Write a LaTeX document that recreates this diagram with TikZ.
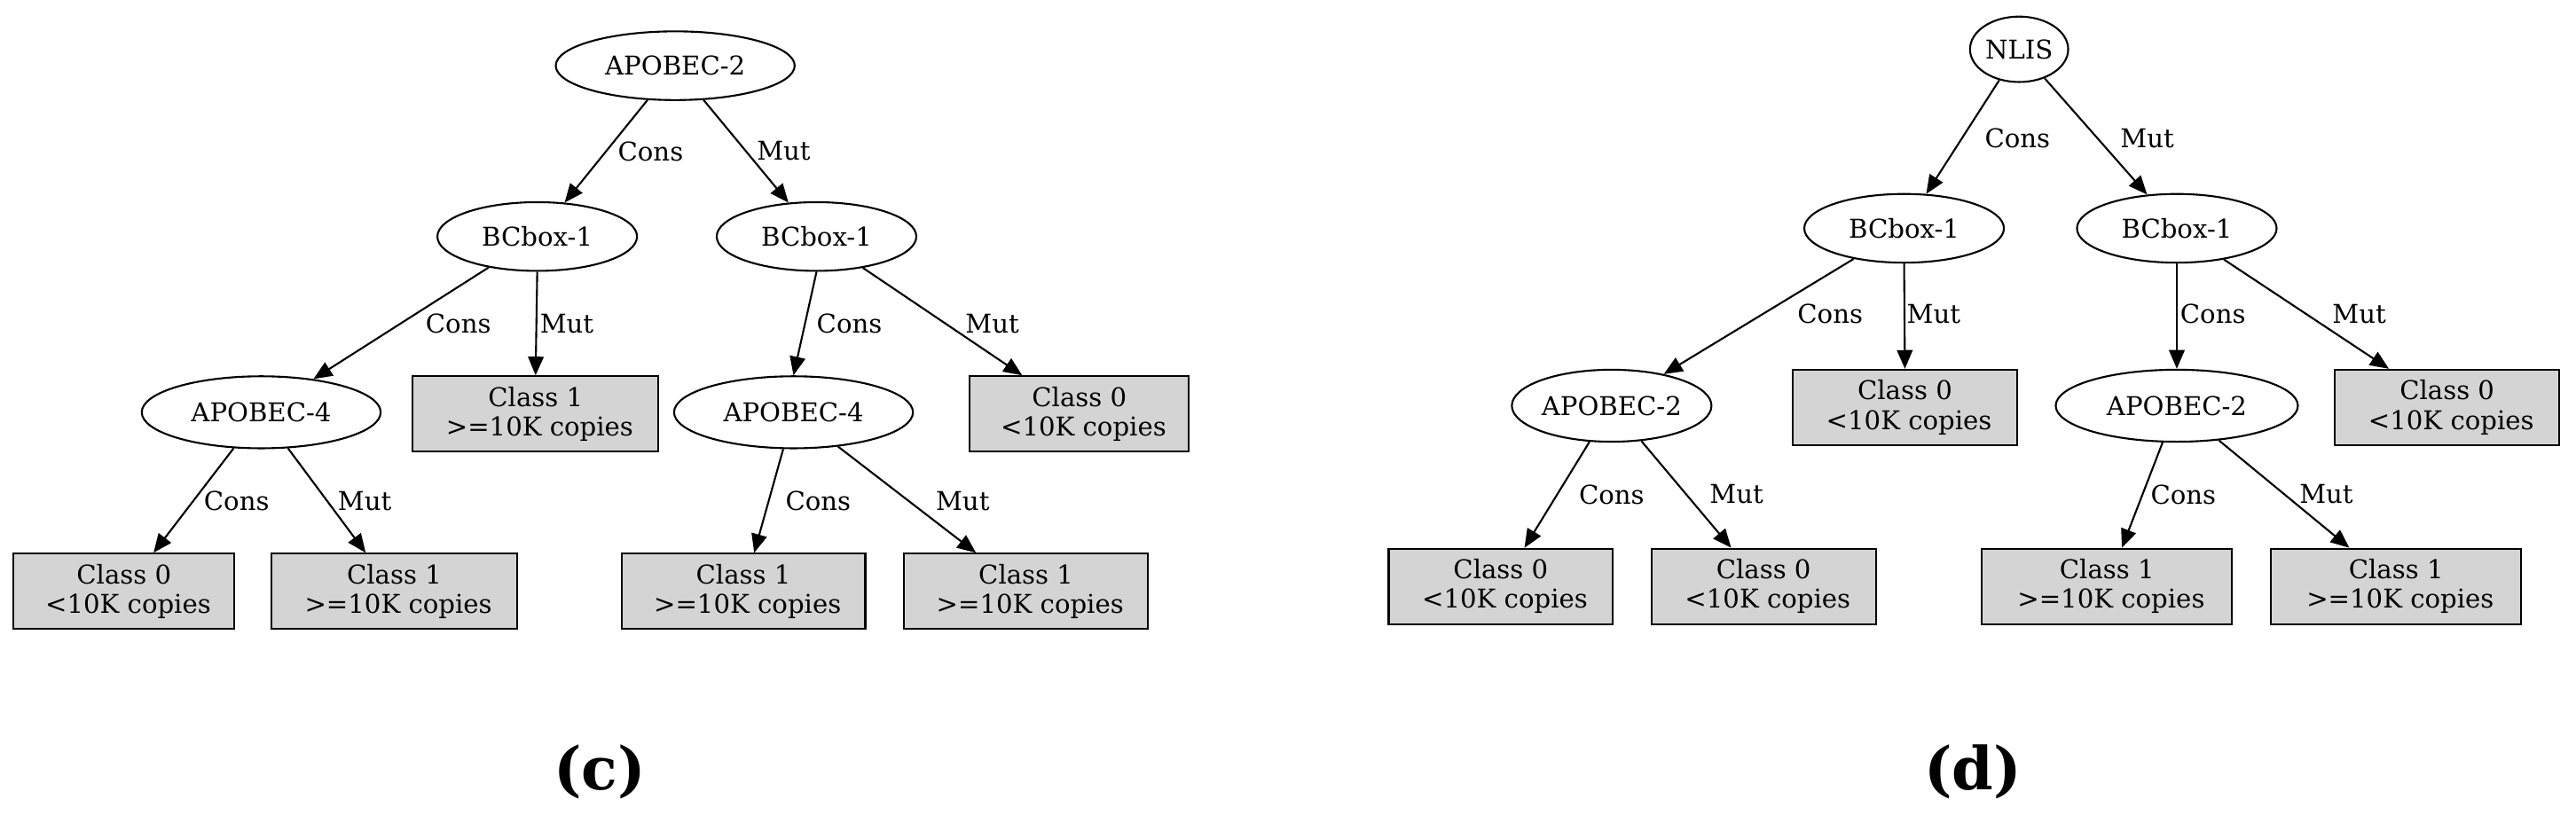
\documentclass[tikz,border=0pt]{standalone}
\usepackage{fontspec}
\setmainfont{DejaVu Serif}
\usetikzlibrary{arrows.meta,shapes.geometric}
\begin{document}
\begin{tikzpicture}[x=0.01852cm,y=-0.01852cm,
  every node/.style={font=\fontsize{8.3}{9.5}\selectfont},
  w/.style={minimum width=#1*0.525pt},
  h/.style={minimum height=#1*0.525pt},
  el/.style={draw,ellipse,line width=0.6pt,inner sep=0pt,h=42},
  bx/.style={draw,fill=black!17,line width=0.6pt,inner sep=0pt,h=46,align=center},
  ar/.style={line width=0.6pt,-{Triangle[length=6pt,width=5pt]}},
  lb/.style={inner sep=0pt}]
\useasboundingbox (0,0) rectangle (1568,501);
% (c)
\node[el,w=146] (a2) at (411,40) {APOBEC-2};
\node[el,w=122] (b1) at (327,144) {BCbox-1};
\node[el,w=122] (b2) at (497,144) {BCbox-1};
\node[el,w=146,h=44] (a4l) at (159,251) {APOBEC-4};
\node[el,w=146,h=44] (a4r) at (483,251) {APOBEC-4};
\node[bx,w=150] (c1a) at (326,252) {Class 1\\ \ >=10K copies};
\node[bx,w=134] (c0a) at (657,252) {Class 0\\ \ <10K copies};
\node[bx,w=135] (c0b) at (75.5,360) {Class 0\\ \ <10K copies};
\node[bx,w=150] (c1b) at (240,360) {Class 1\\ \ >=10K copies};
\node[bx,w=149] (c1c) at (452.5,360) {Class 1\\ \ >=10K copies};
\node[bx,w=149] (c1d) at (624.5,360) {Class 1\\ \ >=10K copies};
\draw[ar] (a2) -- (b1); \draw[ar] (a2) -- (b2);
\draw[ar] (b1) -- (a4l); \draw[ar] (b1.south) -- (c1a.north);
\draw[ar] (b2.south) -- (a4r.north); \draw[ar] (b2) -- (c0a);
\draw[ar] (a4l) -- (c0b); \draw[ar] (a4l) -- (c1b);
\draw[ar] (a4r) -- (c1c); \draw[ar] (a4r) -- (c1d);
\node[lb] (l1) at (396,92) {Cons}; \node[lb] (l2) at (477,92) {Mut};
\node[lb] (l3) at (279,197) {Cons}; \node[lb] (l4) at (345,197) {Mut};
\node[lb] (l5) at (517,197) {Cons}; \node[lb] (l6) at (604,197) {Mut};
\node[lb] (l7) at (144,305) {Cons}; \node[lb] (l8) at (222,305) {Mut};
\node[lb] (l9) at (498,305) {Cons}; \node[lb] (l10) at (586,305) {Mut};
\node[font=\fontsize{19}{22}\selectfont\bfseries] (capc) at (365,470) {(c)};
% (d)
\node[el,w=60,h=40] (n) at (1229,30) {NLIS};
\node[el,w=122] (d1) at (1159,139) {BCbox-1};
\node[el,w=122] (d2) at (1325,139) {BCbox-1};
\node[el,w=122,h=44] (e1) at (981,247) {APOBEC-2};
\node[el,w=148,h=44] (e2) at (1325,247) {APOBEC-2};
\node[bx,w=137] (f1) at (1159.5,248) {Class 0\\ \ <10K copies};
\node[bx,w=137] (f2) at (1489.5,248) {Class 0\\ \ <10K copies};
\node[bx,w=137] (g1) at (913.5,357) {Class 0\\ \ <10K copies};
\node[bx,w=137] (g2) at (1073.5,357) {Class 0\\ \ <10K copies};
\node[bx,w=153] (g3) at (1282.5,357) {Class 1\\ \ >=10K copies};
\node[bx,w=153] (g4) at (1458.5,357) {Class 1\\ \ >=10K copies};
\draw[ar] (n) -- (d1); \draw[ar] (n) -- (d2);
\draw[ar] (d1) -- (e1); \draw[ar] (d1.south) -- (f1.north);
\draw[ar] (d2.south) -- (e2.north); \draw[ar] (d2) -- (f2);
\draw[ar] (e1) -- (g1); \draw[ar] (e1) -- (g2);
\draw[ar] (e2) -- (g3); \draw[ar] (e2) -- (g4);
\node[lb] (m1) at (1228,84) {Cons}; \node[lb] (m2) at (1307,84) {Mut};
\node[lb] (m3) at (1114,191) {Cons}; \node[lb] (m4) at (1177,191) {Mut};
\node[lb] (m5) at (1347,191) {Cons}; \node[lb] (m6) at (1436,191) {Mut};
\node[lb] (m7) at (981,301) {Cons}; \node[lb] (m8) at (1057,301) {Mut};
\node[lb] (m9) at (1329,301) {Cons}; \node[lb] (m10) at (1416,301) {Mut};
\node[font=\fontsize{19}{22}\selectfont\bfseries] (capd) at (1201,470) {(d)};
\end{tikzpicture}
\end{document}
